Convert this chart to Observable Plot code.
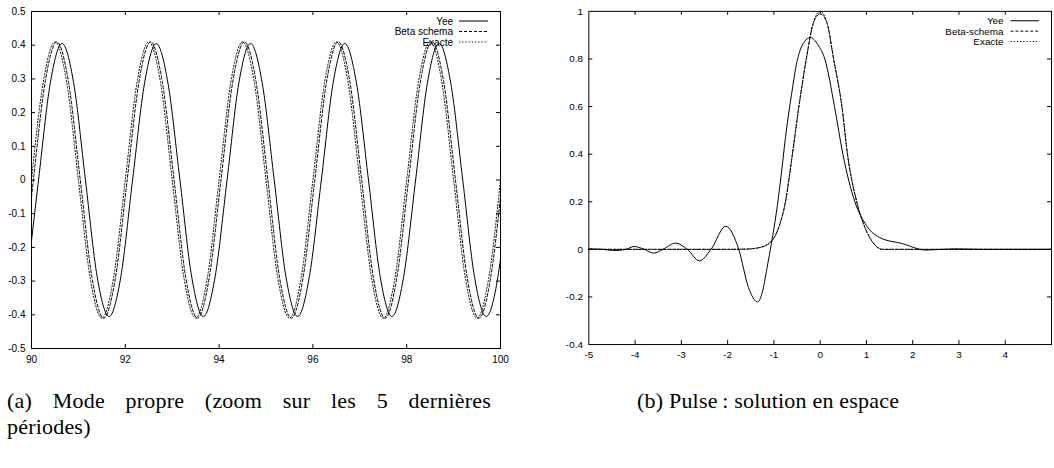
<!DOCTYPE html>
<html>
<head>
<meta charset="utf-8">
<script src="https://cdn.jsdelivr.net/npm/d3@7"></script>
<script src="https://cdn.jsdelivr.net/npm/@observablehq/plot@0.6"></script>
<style>
  html, body { margin: 0; padding: 0; background: #fff; }
  body { width: 1054px; height: 468px; overflow: hidden; position: relative; }
  #a { position: absolute; left: 0; top: 0; }
  #b { position: absolute; left: 530px; top: 0; }
  .cap { position: absolute; font-family: "Liberation Serif", "Times New Roman", serif; font-size: 22px; color: #000; line-height: 26px; letter-spacing: 0.2px; }
  #capA { left: 7px; top: 388px; width: 484px; }
  #capA .l1 { display: block; text-align: justify; text-align-last: justify; }
  #capB { left: 637px; top: 388px; white-space: nowrap; }
</style>
</head>
<body>
<div id="a"></div>
<div id="b"></div>
<div id="capA" class="cap"></div>
<div id="capB" class="cap"></div>
<script>
// ---------- Panel (a): Mode propre ----------
const leftNames = ["Yee", "Beta schema", "Exacte"];
const leftXTicks = [90, 92, 94, 96, 98, 100];
const leftYTicks = [-0.5, -0.4, -0.3, -0.2, -0.1, 0, 0.1, 0.2, 0.3, 0.4, 0.5];

const yeeT = [90.00, 90.15, 90.40, 90.65, 90.90, 91.15, 91.40, 91.655, 91.905, 92.155,
  92.41, 92.66, 92.91, 93.165, 93.415, 93.665, 93.915, 94.17, 94.42, 94.67,
  94.92, 95.175, 95.425, 95.675, 95.925, 96.18, 96.43, 96.68, 96.93, 97.185,
  97.435, 97.685, 97.935, 98.19, 98.44, 98.69, 98.94, 99.195, 99.445, 99.695,
  99.945, 100.00];
const yeeV = [-0.18, 0, 0.287, 0.405, 0.287, 0, -0.287, -0.405, -0.287, 0,
  0.287, 0.405, 0.287, 0, -0.287, -0.405, -0.287, 0, 0.287, 0.405,
  0.287, 0, -0.287, -0.405, -0.287, 0, 0.287, 0.405, 0.287, 0,
  -0.287, -0.405, -0.287, 0, 0.287, 0.405, 0.287, 0, -0.287, -0.405,
  -0.287, -0.235];

const betaT = [90.00, 90.04, 90.29, 90.54, 90.79, 91.04, 91.29, 91.54, 91.79, 92.04,
  92.29, 92.54, 92.79, 93.04, 93.29, 93.54, 93.79, 94.04, 94.29, 94.54,
  94.79, 95.04, 95.29, 95.54, 95.79, 96.04, 96.29, 96.54, 96.79, 97.04,
  97.29, 97.54, 97.79, 98.04, 98.29, 98.54, 98.79, 99.04, 99.29, 99.54,
  99.79, 100.00];
const betaV = [-0.05, 0, 0.29, 0.41, 0.29, 0, -0.29, -0.41, -0.29, 0,
  0.29, 0.41, 0.29, 0, -0.29, -0.41, -0.29, 0, 0.29, 0.41,
  0.29, 0, -0.29, -0.41, -0.29, 0, 0.29, 0.41, 0.29, 0,
  -0.29, -0.41, -0.29, 0, 0.29, 0.41, 0.29, 0, -0.29, -0.41,
  -0.29, -0.05];

const exactT = [90.00, 90.25, 90.50, 90.75, 91.00, 91.25, 91.50, 91.75, 92.00,
  92.25, 92.50, 92.75, 93.00, 93.25, 93.50, 93.75, 94.00,
  94.25, 94.50, 94.75, 95.00, 95.25, 95.50, 95.75, 96.00,
  96.25, 96.50, 96.75, 97.00, 97.25, 97.50, 97.75, 98.00,
  98.25, 98.50, 98.75, 99.00, 99.25, 99.50, 99.75, 100.00];
const exactV = [0, 0.29, 0.41, 0.29, 0, -0.29, -0.41, -0.29, 0,
  0.29, 0.41, 0.29, 0, -0.29, -0.41, -0.29, 0,
  0.29, 0.41, 0.29, 0, -0.29, -0.41, -0.29, 0,
  0.29, 0.41, 0.29, 0, -0.29, -0.41, -0.29, 0,
  0.29, 0.41, 0.29, 0, -0.29, -0.41, -0.29, 0];

// ---------- Panel (b): Pulse ----------
const rightNames = ["Yee", "Beta-schema", "Exacte"];
const rightXTicks = [-5, -4, -3, -2, -1, 0, 1, 2, 3, 4];
const rightYTicks = [-0.4, -0.2, 0, 0.2, 0.4, 0.6, 0.8, 1];

const pYeeX = [-5, -4.7, -4.43, -4.2, -4.02, -3.8, -3.6, -3.4, -3.13, -2.87,
  -2.61, -2.36, -2.04, -1.76, -1.55, -1.35, -1.25, -1.15, -1.05, -0.95,
  -0.85, -0.75, -0.62, -0.5, -0.35, -0.21, -0.05, 0.10, 0.31, 0.49,
  0.75, 1.0, 1.28, 1.78, 2.28, 2.9, 3.5, 5];
const pYeeV = [0.002, 0, -0.005, 0, 0.012, 0, -0.016, 0, 0.026, 0,
  -0.048, 0, 0.097, 0, -0.16, -0.221, -0.18, -0.08, 0.03, 0.15,
  0.3, 0.47, 0.65, 0.79, 0.87, 0.89, 0.86, 0.8, 0.6, 0.4,
  0.2, 0.1, 0.05, 0.024, -0.003, 0.002, 0, 0];

const pBetaX = [-5, -2, -1.6, -1.3, -1.05, -0.9, -0.75, -0.6, -0.46, -0.3,
  -0.15, 0, 0.15, 0.29, 0.47, 0.59, 0.79, 0.95, 1.07, 1.35, 2, 5];
const pBetaV = [0, 0, 0.001, 0.008, 0.035, 0.09, 0.2, 0.4, 0.6, 0.8,
  0.95, 0.99, 0.95, 0.8, 0.6, 0.4, 0.2, 0.1, 0.05, 0, 0, 0];

const pExactX = [-5, -2, -1.6, -1.3, -1.05, -0.9, -0.75, -0.6, -0.46, -0.3,
  -0.15, 0, 0.15, 0.29, 0.47, 0.59, 0.79, 0.95, 1.07, 1.35, 2, 5];
const pExactV = [0, 0, 0.001, 0.008, 0.035, 0.09, 0.2, 0.4, 0.6, 0.8,
  0.95, 1.0, 0.95, 0.8, 0.6, 0.4, 0.2, 0.1, 0.05, 0, 0, 0];

const captionA = ["(a) Mode propre (zoom sur les 5 dernières", "périodes)"];
const captionB = "(b) Pulse\u2009: solution en espace";

// ---------- shared styling ----------
const dashes = [null, "3,2", "1.2,2"];
const fmt = d => String(Math.round(d * 10) / 10);
const FONT = "'Liberation Sans', Arial, Helvetica, sans-serif";

function panel({width, height, mL, mR, mT, mB, xDomain, yDomain, xTicks, yTicks, xInner, yInner, series}) {
  const pw = width - mL - mR, ph = height - mT - mB;
  const tl = 4;
  return Plot.plot({
    width, height, marginLeft: mL, marginRight: mR, marginTop: mT, marginBottom: mB,
    style: {fontFamily: FONT, fontSize: "10px", color: "#000", background: "#fff", overflow: "visible"},
    x: {domain: xDomain},
    y: {domain: yDomain},
    marks: [
      Plot.tickX(xInner, {x: d => d, insetTop: ph - tl, stroke: "#000", strokeWidth: 1}),
      Plot.tickX(xInner, {x: d => d, insetBottom: ph - tl, stroke: "#000", strokeWidth: 1}),
      Plot.tickY(yInner, {y: d => d, insetRight: pw - tl, stroke: "#000", strokeWidth: 1}),
      Plot.tickY(yInner, {y: d => d, insetLeft: pw - tl, stroke: "#000", strokeWidth: 1}),
      ...series.map((s, i) => Plot.line(s.v, {x: s.x, y: s.v, curve: "monotone-x", stroke: "#000", strokeWidth: 1, strokeDasharray: dashes[i]})),
      Plot.frame({stroke: "#000", strokeWidth: 1}),
      Plot.axisX(xTicks, {tickSize: 0, tickPadding: 7, tickFormat: fmt, label: null, fill: "#000"}),
      Plot.axisY(yTicks, {tickSize: 0, tickPadding: 6, tickFormat: fmt, label: null, fill: "#000"})
    ]
  });
}

function addLegend(svg, names, textRight, lineX1, lineX2, rowsY) {
  const g = d3.select(svg).append("g").attr("font-family", FONT).attr("font-size", 10);
  names.forEach((n, i) => {
    g.append("text").attr("x", textRight).attr("y", rowsY[i]).attr("dy", "0.35em")
      .attr("text-anchor", "end").attr("fill", "#000").text(n);
    g.append("line").attr("x1", lineX1).attr("x2", lineX2).attr("y1", rowsY[i]).attr("y2", rowsY[i])
      .attr("stroke", "#000").attr("stroke-width", 1).attr("stroke-dasharray", dashes[i]);
  });
}

const svgA = panel({
  width: 520, height: 370, mL: 31, mR: 20, mT: 11, mB: 22,
  xDomain: [90, 100], yDomain: [-0.5, 0.5],
  xTicks: leftXTicks, yTicks: leftYTicks,
  xInner: leftXTicks.slice(1, -1), yInner: leftYTicks.slice(1, -1),
  series: [{x: yeeT, v: yeeV}, {x: betaT, v: betaV}, {x: exactT, v: exactV}]
});
addLegend(svgA, leftNames, 453, 459, 488, [21, 31.5, 42]);
document.getElementById("a").appendChild(svgA);

const svgB = panel({
  width: 530, height: 370, mL: 59, mR: 3, mT: 11, mB: 22,
  xDomain: [-5, 5], yDomain: [-0.4, 1],
  xTicks: rightXTicks, yTicks: rightYTicks,
  xInner: rightXTicks.slice(1), yInner: rightYTicks.slice(1, -1),
  series: [{x: pYeeX, v: pYeeV}, {x: pBetaX, v: pBetaV}, {x: pExactX, v: pExactV}]
});
addLegend(svgB, rightNames, 479, 486, 515, [21, 31.5, 42]);
document.getElementById("b").appendChild(svgB);

const capA = document.getElementById("capA");
const l1 = document.createElement("span"); l1.className = "l1"; l1.textContent = captionA[0];
const l2 = document.createElement("span"); l2.textContent = captionA[1];
capA.appendChild(l1); capA.appendChild(l2);
document.getElementById("capB").textContent = captionB;
</script>
</body>
</html>
